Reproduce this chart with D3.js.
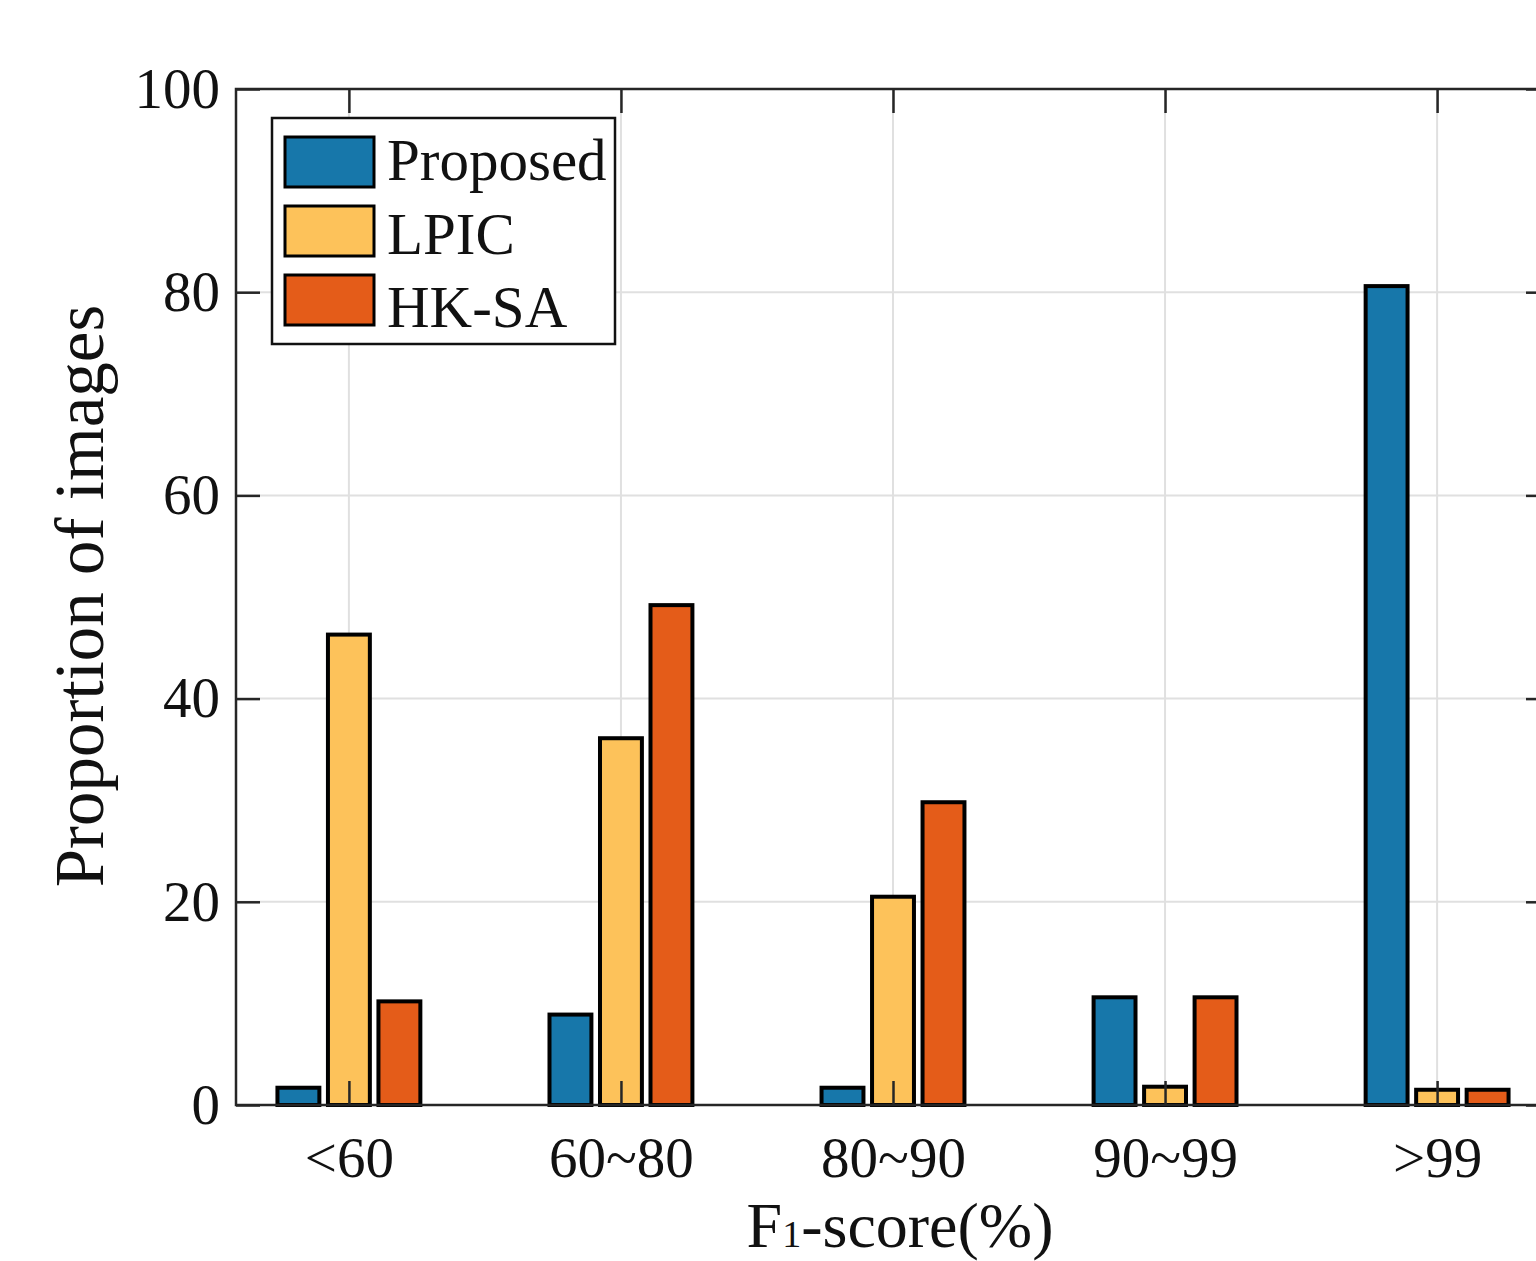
<!DOCTYPE html>
<html>
<head>
<meta charset="utf-8">
<script src="https://cdn.jsdelivr.net/npm/d3@7"></script>
<style>
  body { margin: 0; background: #fff; }
  text { font-family: "Liberation Serif", "Times New Roman", serif; fill: #111; }
</style>
</head>
<body>
<script>
const categories = ['<60', '60~80', '80~90', '90~99', '>99'];
const seriesNames = ['Proposed', 'LPIC', 'HK-SA'];
const proposed = [1.7, 8.9, 1.7, 10.6, 80.6];
const lpic = [46.3, 36.1, 20.5, 1.8, 1.5];
const hksa = [10.2, 49.2, 29.8, 10.6, 1.5];
const yTicks = [0, 20, 40, 60, 80, 100];
const colors = ['#1777AA', '#FDC25A', '#E45C19'];

const width = 1536;
const height = 1261;
const margin = { top: 89, left: 236, bottom: 1105, right: 1550 };

const svg = d3.select('body')
  .append('svg')
  .attr('width', width)
  .attr('height', height);

svg.append('rect').attr('width', width).attr('height', height).attr('fill', '#fff');

const x = d3.scaleLinear()
  .domain([0.585, 5.415])
  .range([margin.left, margin.right]);

const y = d3.scaleLinear()
  .domain([0, 100])
  .range([margin.bottom, margin.top]);

const sub = d3.scaleBand()
  .domain(seriesNames)
  .range([-75.75, 75.75])
  .paddingInner(0.17)
  .paddingOuter(0.085);

const color = d3.scaleOrdinal().domain(seriesNames).range(colors);

const catIdx = categories.map((c, i) => i + 1);

// grid
const grid = svg.append('g').attr('stroke', '#e0e0e0').attr('stroke-width', 2);
grid.selectAll('line.h')
  .data(yTicks.slice(1, -1))
  .enter().append('line')
  .attr('x1', margin.left).attr('x2', margin.right)
  .attr('y1', d => y(d)).attr('y2', d => y(d));
grid.selectAll('line.v')
  .data(catIdx)
  .enter().append('line')
  .attr('x1', d => x(d)).attr('x2', d => x(d))
  .attr('y1', margin.top).attr('y2', margin.bottom);

// bars
const rows = categories.map((c, i) => ({
  i: i + 1,
  values: [proposed[i], lpic[i], hksa[i]]
}));

const groups = svg.selectAll('g.group')
  .data(rows)
  .enter().append('g')
  .attr('class', 'group')
  .attr('transform', d => `translate(${x(d.i)},0)`);

groups.selectAll('rect')
  .data(d => d.values.map((v, k) => ({ name: seriesNames[k], v })))
  .enter().append('rect')
  .attr('x', d => sub(d.name))
  .attr('width', sub.bandwidth())
  .attr('y', d => y(d.v))
  .attr('height', d => y(0) - y(d.v))
  .attr('fill', d => color(d.name))
  .attr('stroke', '#000')
  .attr('stroke-width', 4);

// axes (ticks inward, on top)
const styleAxis = g => {
  g.select('.domain').remove();
  g.selectAll('.tick line').attr('stroke', '#262626').attr('stroke-width', 2.5);
  g.selectAll('.tick text').attr('font-size', 57).attr('fill', '#111')
    .style('font-family', '"Liberation Serif", "Times New Roman", serif');
};

svg.append('g')
  .attr('transform', `translate(0,${margin.bottom})`)
  .call(d3.axisBottom(x).tickValues(catIdx).tickFormat(d => categories[d - 1]).tickSize(-24).tickPadding(32))
  .call(styleAxis);

svg.append('g')
  .attr('transform', `translate(0,${margin.top})`)
  .call(d3.axisTop(x).tickValues(catIdx).tickFormat('').tickSize(-24))
  .call(styleAxis);

svg.append('g')
  .attr('transform', `translate(${margin.left},0)`)
  .call(d3.axisLeft(y).tickValues(yTicks).tickSize(-24).tickPadding(16))
  .call(styleAxis);

svg.append('g')
  .attr('transform', `translate(${margin.right},0)`)
  .call(d3.axisRight(y).tickValues(yTicks).tickFormat('').tickSize(-24))
  .call(styleAxis);

// frame
svg.append('rect')
  .attr('x', margin.left).attr('y', margin.top)
  .attr('width', margin.right - margin.left)
  .attr('height', margin.bottom - margin.top)
  .attr('fill', 'none')
  .attr('stroke', '#262626')
  .attr('stroke-width', 2.5);

// axis labels
svg.append('text')
  .attr('transform', `translate(103,${596}) rotate(-90)`)
  .attr('text-anchor', 'middle')
  .attr('font-size', 69)
  .text('Proportion of images');

const xl = svg.append('text')
  .attr('x', 900)
  .attr('y', 1247)
  .attr('text-anchor', 'middle')
  .attr('font-size', 64);
xl.append('tspan').text('F');
xl.append('tspan').attr('font-size', 38).attr('fill', '#111').text('1');
xl.append('tspan').text('-score(%)');

// legend
const legend = svg.append('g');
legend.append('rect')
  .attr('x', 272).attr('y', 118)
  .attr('width', 343).attr('height', 226)
  .attr('fill', '#fff')
  .attr('stroke', '#111')
  .attr('stroke-width', 2.5);

seriesNames.forEach((s, i) => {
  legend.append('rect')
    .attr('x', 285).attr('y', 137 + i * 69)
    .attr('width', 89).attr('height', 50)
    .attr('fill', color(s))
    .attr('stroke', '#000')
    .attr('stroke-width', 3);
  legend.append('text')
    .attr('x', 387).attr('y', 180 + i * 73.5)
    .attr('font-size', 59)
    .text(s);
});
</script>
</body>
</html>
